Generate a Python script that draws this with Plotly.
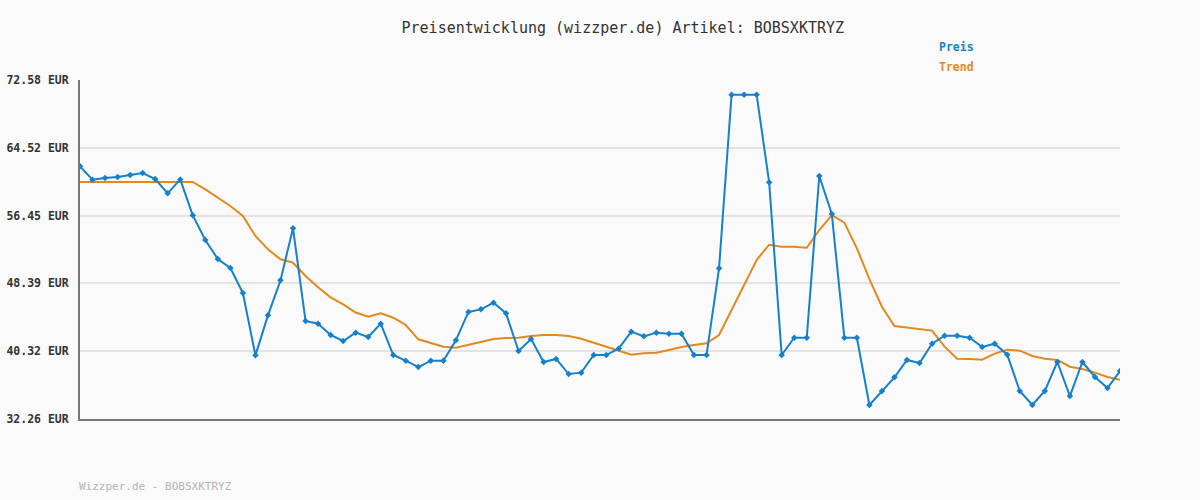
import plotly.graph_objects as go

titel = "Preisentwicklung (wizzper.de) Artikel: BOBSXKTRYZ"
fusszeile = "Wizzper.de - BOBSXKTRYZ"

preis = [62.31, 60.72, 60.92, 61.04, 61.28, 61.52, 60.80, 59.10, 60.76, 56.48,
         53.55, 51.29, 50.22, 47.25, 39.83, 44.59, 48.75, 54.94, 43.92, 43.60,
         42.25, 41.54, 42.53, 42.01, 43.60, 39.87, 39.20, 38.44, 39.20, 39.20,
         41.62, 44.99, 45.30, 46.10, 44.83, 40.35, 41.77, 39.04, 39.40, 37.61,
         37.77, 39.87, 39.87, 40.66, 42.65, 42.09, 42.53, 42.41, 42.41, 39.87,
         39.87, 50.18, 70.83, 70.83, 70.83, 60.41, 39.87, 41.93, 41.93, 61.16,
         56.64, 41.93, 41.93, 33.92, 35.59, 37.22, 39.28, 38.92, 41.22, 42.17,
         42.17, 41.93, 40.82, 41.22, 39.91, 35.59, 33.92, 35.59, 39.04, 34.99,
         39.04, 37.26, 35.95, 37.97]

trend = [60.45, 60.45, 60.45, 60.45, 60.45, 60.45, 60.45, 60.45, 60.45, 60.45,
         59.58, 58.63, 57.59, 56.40, 54.03, 52.44, 51.25, 50.85, 49.27, 47.92,
         46.73, 45.90, 44.93, 44.43, 44.83, 44.31, 43.44, 41.74, 41.26, 40.86,
         40.74, 41.06, 41.42, 41.77, 41.89, 41.93, 42.13, 42.25, 42.25, 42.13,
         41.81, 41.33, 40.86, 40.39, 39.91, 40.07, 40.15, 40.47, 40.82, 41.06,
         41.26, 42.25, 45.22, 48.32, 51.17, 52.99, 52.75, 52.75, 52.63, 54.74,
         56.52, 55.61, 52.56, 48.89, 45.62, 43.32, 43.16, 42.93, 42.77, 40.86,
         39.43, 39.40, 39.32, 40.03, 40.51, 40.39, 39.75, 39.43, 39.28, 38.48,
         38.21, 37.77, 37.26, 36.93]

y_ticks = [32.26, 40.32, 48.39, 56.45, 64.52, 72.58]

x = list(range(len(preis)))
mono = "DejaVu Sans Mono"
blau = "#1580cc"
orange = "#e3891f"

fig = go.Figure()
fig.add_trace(go.Scatter(x=x, y=trend, mode="lines", name="Trend",
                         line=dict(color=orange, width=2)))
fig.add_trace(go.Scatter(x=x, y=preis, mode="lines+markers", name="Preis",
                         line=dict(color=blau, width=2),
                         marker=dict(symbol="diamond", size=5, color=blau)))

# Legende als farbiger Text
fig.add_annotation(text="<b>Preis</b>", xref="paper", yref="paper", x=0.8245, y=1.097,
                   showarrow=False, xanchor="left", yanchor="middle",
                   font=dict(family=mono, size=11.5, color=blau))
fig.add_annotation(text="<b>Trend</b>", xref="paper", yref="paper", x=0.8245, y=1.038,
                   showarrow=False, xanchor="left", yanchor="middle",
                   font=dict(family=mono, size=11.5, color=orange))
fig.add_annotation(text=fusszeile, xref="paper", yref="paper", x=-0.003, y=-0.2,
                   showarrow=False, xanchor="left", yanchor="middle",
                   font=dict(family=mono, size=11, color="#b5b5b5"))

fig.update_layout(
    title=dict(text=titel, x=0.519, y=0.955, xanchor="center",
               font=dict(family=mono, size=15, color="#333")),
    width=1200, height=500,
    paper_bgcolor="#fafafa", plot_bgcolor="#fafafa",
    margin=dict(l=80, r=80, t=80, b=81),
    showlegend=False,
    xaxis=dict(range=[0, len(preis) - 1], showgrid=False, showticklabels=False,
               zeroline=False, showline=True, linecolor="#777", linewidth=2,
               automargin=False),
    yaxis=dict(range=[y_ticks[0], y_ticks[-1]], tickvals=y_ticks,
               ticktext=[f"<b>{v:.2f} EUR</b>" for v in y_ticks],
               showgrid=True, gridcolor="#e3e3e3", gridwidth=2, zeroline=False,
               showline=True, linecolor="#777", linewidth=2,
               tickfont=dict(family=mono, size=11.5, color="#333"), ticklen=0,
               ticklabelstandoff=7, automargin=False),
)

fig.write_html("out.html", config={"displayModeBar": False},
               post_script="document.body.style.margin='0';")
